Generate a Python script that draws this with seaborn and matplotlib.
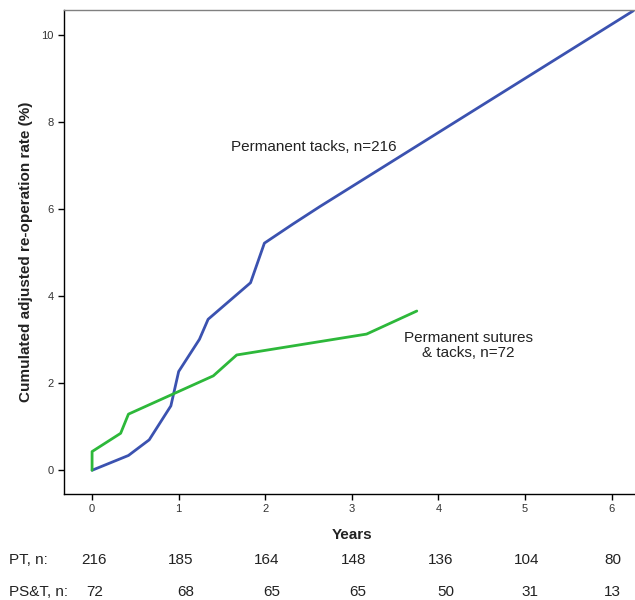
import matplotlib
matplotlib.use("Agg")
import matplotlib.pyplot as plt
import seaborn as sns
import pandas as pd

sns.set_theme(style="white")
plt.rcParams['font.family'] = ['Liberation Sans', 'DejaVu Sans']

pt_years = [0.0, 0.42, 0.66, 0.91, 1.0, 1.24, 1.34, 1.83, 1.99, 2.32, 2.63, 6.25]
pt_rate = [0.0, 0.34, 0.70, 1.48, 2.27, 3.01, 3.47, 4.31, 5.22, 5.66, 6.06, 10.56]
pst_years = [0.0, 0.0, 0.33, 0.42, 1.40, 1.67, 3.17, 3.75]
pst_rate = [0.0, 0.43, 0.85, 1.29, 2.17, 2.65, 3.13, 3.66]

table_years = [0, 1, 2, 3, 4, 5, 6]
pt_n = [216, 185, 164, 148, 136, 104, 80]
pst_n = [72, 68, 65, 65, 50, 31, 13]

blue = "#3B52B0"
green = "#2DB83A"
txt = "#222222"

df_pt = pd.DataFrame({"Years": pt_years, "rate": pt_rate})
df_pst = pd.DataFrame({"Years": pst_years, "rate": pst_rate})

fig = plt.figure(figsize=(6.35, 6.0), dpi=100)
ax = fig.add_axes([0.1, 0.1767, 0.9, 0.806])

sns.lineplot(data=df_pt, x="Years", y="rate", ax=ax, color=blue, lw=2.0,
             sort=False, estimator=None)
sns.lineplot(data=df_pst, x="Years", y="rate", ax=ax, color=green, lw=2.0,
             sort=False, estimator=None)

ax.set_xlim(-0.33, 6.27)
ax.set_ylim(-0.545, 10.57)
ax.set_xticks(table_years)
ax.set_yticks([0, 2, 4, 6, 8, 10])
ax.tick_params(axis='both', direction='out', length=4, width=1, labelsize=8,
               color='black', labelcolor='#333333', left=True, bottom=True, pad=3)
for s in ['left', 'bottom']:
    ax.spines[s].set_color('black')
    ax.spines[s].set_linewidth(1.0)
ax.spines['top'].set_color('#808080')
ax.spines['top'].set_linewidth(1.0)
ax.spines['right'].set_visible(False)

ax.set_ylabel("Cumulated adjusted re-operation rate (%)", fontsize=11, fontweight='bold', color=txt)
ax.yaxis.set_label_coords(-0.053, 0.5)
ax.set_xlabel("Years", fontsize=11, fontweight='bold', color=txt)
ax.xaxis.set_label_coords(0.505, -0.07)

ax.text(2.56, 7.42, "Permanent tacks, n=216", fontsize=11, ha='center', va='center', color=txt)
ax.text(4.35, 2.86, "Permanent sutures\n& tacks, n=72", fontsize=11, ha='center', va='center',
        color=txt, linespacing=1.1)

# number at risk table
fig.text(9/635, 1 - 560/600, "PT, n:", fontsize=11, ha='left', va='center', color=txt)
fig.text(9/635, 1 - 592/600, "PS&T, n:", fontsize=11, ha='left', va='center', color=txt)
pt_off = [0.02, 0.02, 0.02, 0.02, 0.02, 0.02, 0.01]
pst_off = [0.03, 0.08, 0.08, 0.07, 0.08, 0.06, 0.01]
for x, n, o in zip(table_years, pt_n, pt_off):
    xd = ax.transData.transform((x + o, 0))[0]
    fig.text(xd / fig.bbox.width, 1 - 560/600, str(n), fontsize=11, ha='center', va='center', color=txt)
for x, n, o in zip(table_years, pst_n, pst_off):
    xd = ax.transData.transform((x + o, 0))[0]
    fig.text(xd / fig.bbox.width, 1 - 592/600, str(n), fontsize=11, ha='center', va='center', color=txt)

fig.savefig("out.png", dpi=100)
